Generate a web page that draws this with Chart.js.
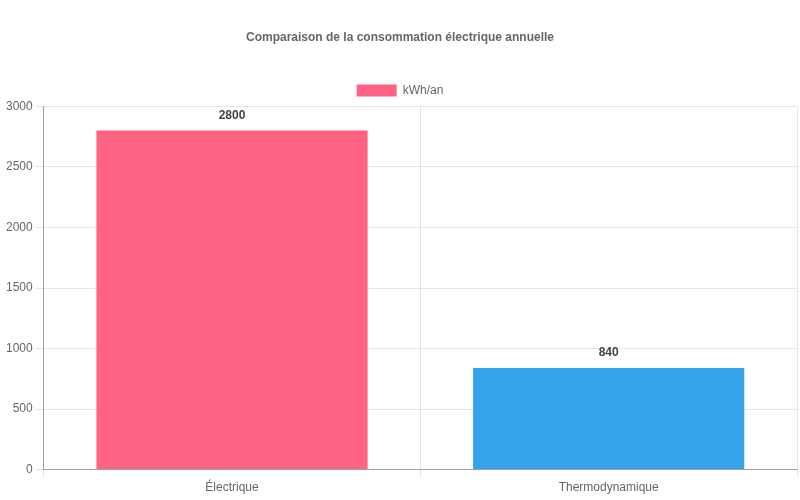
<!DOCTYPE html>
<html>
<head>
<meta charset="utf-8">
<script src="https://cdn.jsdelivr.net/npm/chart.js@4"></script>
<style>
  html, body { margin: 0; padding: 0; background: #fff; }
  #wrap { width: 800px; height: 500px; }
</style>
</head>
<body>
<div id="wrap"><canvas id="chart"></canvas></div>
<script>
'use strict';

// data
const categories = ['Électrique', 'Thermodynamique'];
const consumption = [2800, 840];
const barColors = ['#FF6384', '#36A2EB'];
const yTicks = { min: 0, max: 3000, step: 500 };

// draws the value above each bar
const valueLabels = {
    id: 'valueLabels',
    afterDatasetsDraw(chart) {
        const ctx = chart.ctx;
        const meta = chart.getDatasetMeta(0);
        ctx.save();
        ctx.font = 'bold 12px "Liberation Sans", Arial, sans-serif';
        ctx.fillStyle = '#444';
        ctx.textAlign = 'center';
        ctx.textBaseline = 'bottom';
        meta.data.forEach((bar, i) => {
            ctx.fillText(String(consumption[i]), bar.x, bar.y - 9);
        });
        ctx.restore();
    }
};

Chart.defaults.font.family = '"Liberation Sans", Arial, sans-serif';
Chart.defaults.font.size = 12;
Chart.defaults.color = '#666';

new Chart(document.getElementById('chart'), {
    type: 'bar',
    data: {
        labels: categories,
        datasets: [
            {
                label: 'kWh/an',
                data: consumption,
                backgroundColor: barColors,
                borderWidth: 0
            }
        ]
    },
    options: {
        responsive: true,
        maintainAspectRatio: false,
        animation: false,
        layout: {
            padding: { top: 20, right: 3, bottom: 2, left: 3 }
        },
        plugins: {
            title: {
                display: true,
                text: 'Comparaison de la consommation électrique annuelle',
                color: '#666',
                font: { size: 12, weight: 'bold' },
                padding: { top: 10, bottom: 30 }
            },
            legend: {
                display: true,
                labels: {
                    boxWidth: 40,
                    boxHeight: 12,
                    color: '#666'
                }
            },
            tooltip: { enabled: false }
        },
        scales: {
            x: {
                grid: { color: 'rgba(0,0,0,0.1)' },
                border: { color: 'rgba(0,0,0,0.3)' },
                ticks: { color: '#666' }
            },
            y: {
                min: yTicks.min,
                max: yTicks.max,
                grid: { color: 'rgba(0,0,0,0.1)' },
                border: { color: 'rgba(0,0,0,0.3)' },
                ticks: {
                    stepSize: yTicks.step,
                    color: '#666',
                    callback: value => String(value)
                }
            }
        }
    },
    plugins: [valueLabels]
});
</script>
</body>
</html>
